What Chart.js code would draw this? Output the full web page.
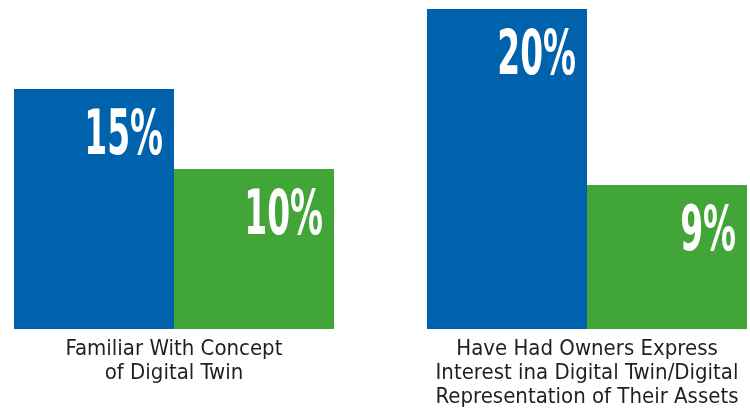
<!DOCTYPE html>
<html>
<head>
<meta charset="utf-8">
<script src="https://cdn.jsdelivr.net/npm/chart.js@4"></script>
<style>
  html, body { margin: 0; padding: 0; background: #fff; }
  #wrap { width: 750px; height: 417px; }
</style>
</head>
<body>
<div id="wrap"><canvas id="twinChart"></canvas></div>
<script>
// Data
const categories = [
    ['Familiar With Concept', 'of Digital Twin'],
    ['Have Had Owners Express', 'Interest ina Digital Twin/Digital', 'Representation of Their Assets']
];
const firstValues = [15, 20];
const secondValues = [10, 9];
const valueMax = 20;

const narrowFont = "'Liberation Sans Narrow', 'DejaVu Sans Condensed', 'Roboto', sans-serif";

// Label persen di pojok kanan atas setiap batang
const valueLabels = {
    id: 'valueLabels',
    afterDatasetsDraw(chart) {
        const ctx = chart.ctx;
        ctx.save();
        ctx.fillStyle = '#ffffff';
        ctx.font = 'bold 62px ' + narrowFont;
        ctx.textAlign = 'right';
        ctx.textBaseline = 'alphabetic';
        chart.data.datasets.forEach((ds, i) => {
            chart.getDatasetMeta(i).data.forEach((bar, j) => {
                const right = bar.x + bar.width / 2 - 11;
                ctx.save();
                ctx.translate(right, bar.y + 65);
                ctx.scale(0.59, 1);
                ctx.fillText(ds.data[j] + '%', 0, 0);
                ctx.restore();
            });
        });
        ctx.restore();
    }
};

const ctx = document.getElementById('twinChart');
new Chart(ctx, {
    type: 'bar',
    data: {
        labels: categories,
        datasets: [{
            data: firstValues,
            backgroundColor: '#0061ad',
            borderWidth: 0,
            clip: false
        }, {
            data: secondValues,
            backgroundColor: '#42a537',
            borderWidth: 0,
            clip: false
        }]
    },
    options: {
        responsive: true,
        maintainAspectRatio: false,
        animation: false,
        categoryPercentage: 320 / 413,
        barPercentage: 1,
        layout: {
            padding: { top: 9, left: 174, right: 163, bottom: 0 }
        },
        plugins: {
            legend: { display: false },
            tooltip: { enabled: false }
        },
        scales: {
            x: {
                offset: false,
                grid: { display: false, drawTicks: false },
                border: { display: false },
                ticks: {
                    padding: 8,
                    maxRotation: 0,
                    autoSkip: false,
                    color: '#231f20',
                    font: { family: narrowFont, size: 22, lineHeight: 1.09 }
                }
            },
            y: {
                display: false,
                min: 0,
                max: valueMax
            }
        }
    },
    plugins: [valueLabels]
});
</script>
</body>
</html>
